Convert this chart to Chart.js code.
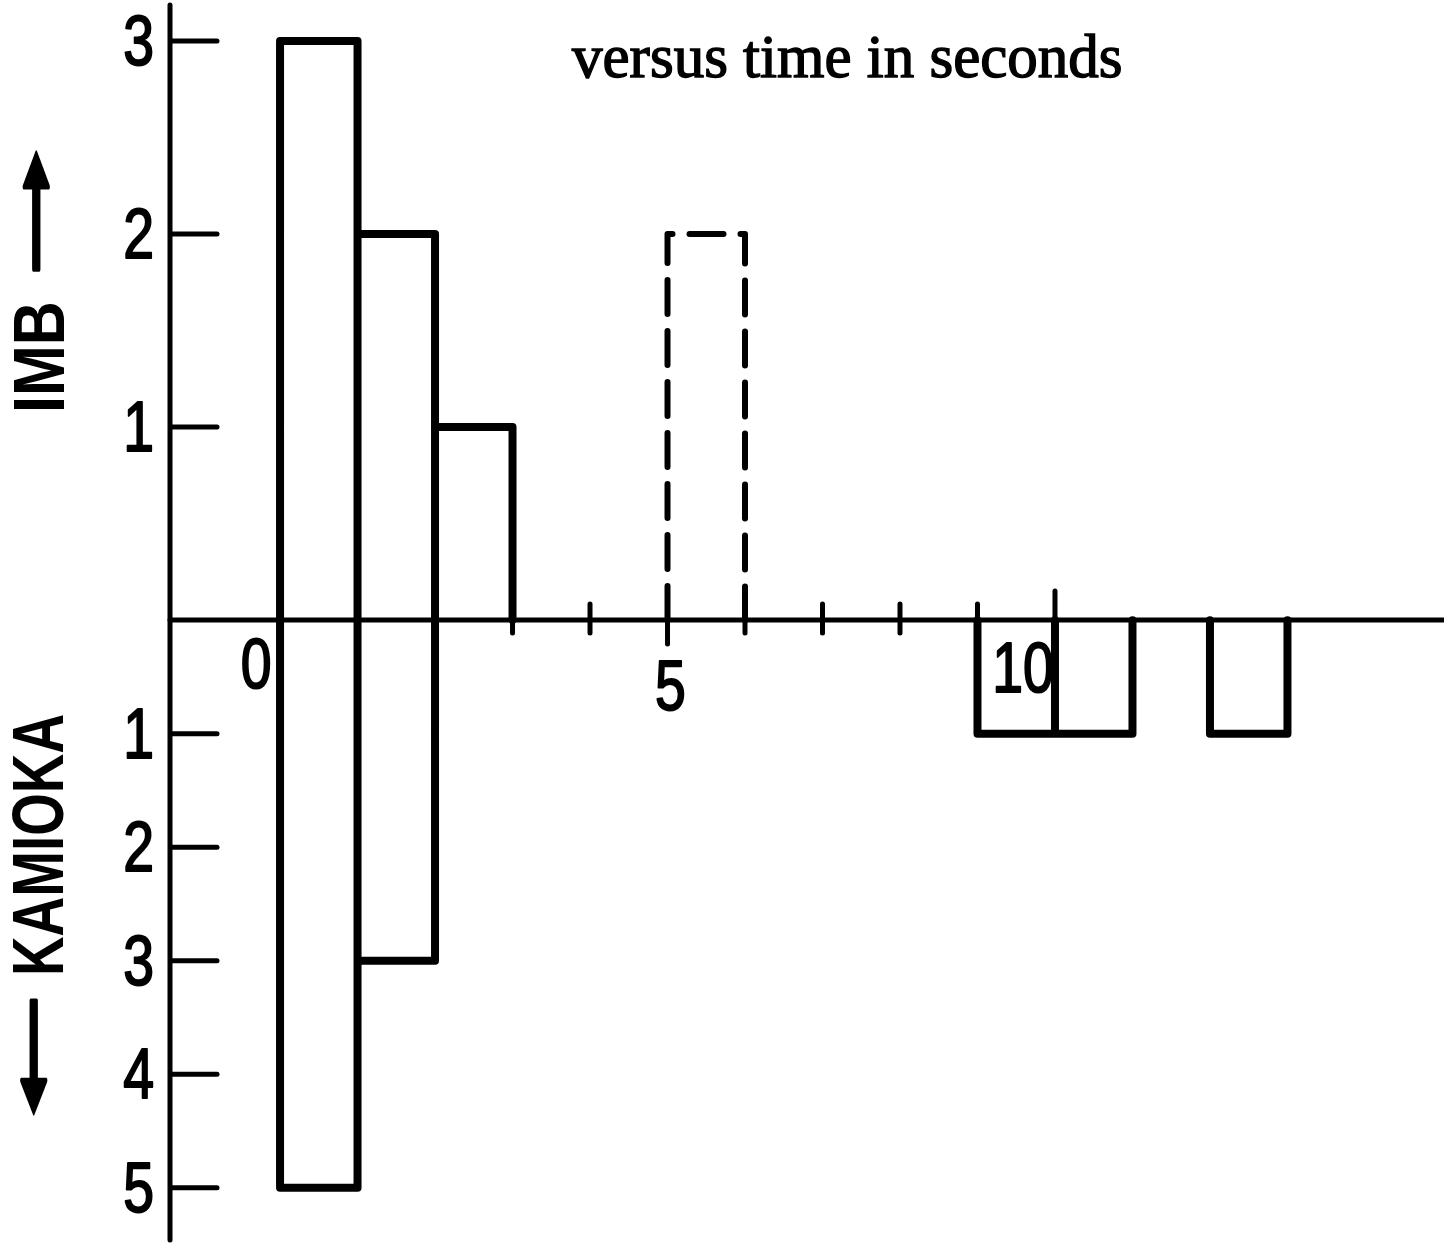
<!DOCTYPE html>
<html>
<head>
<meta charset="utf-8">
<script src="https://cdn.jsdelivr.net/npm/chart.js@4.4.1/dist/chart.umd.min.js"></script>
<style>
  html, body { margin: 0; padding: 0; background: #fff; overflow: hidden; }
  #wrap { width: 1444px; height: 1245px; position: relative; }
</style>
</head>
<body>
<div id="wrap"><canvas id="chart"></canvas></div>
<script>
// neutrino counts per 1 second bin (bin start in seconds)
const imbBinStarts = [0, 1, 2]
const imbCounts = [3, 2, 1]
const imbDashedBinStarts = [5]
const imbDashedCounts = [2]
const kamiokaBinStarts = [0, 1, 9, 10, 12]
const kamiokaCounts = [5, 3, 1, 1, 1]
const binWidth = 1

const imbTicks = [1, 2, 3]
const kamiokaTicks = [1, 2, 3, 4, 5]
const timeTicks = [3, 4, 5, 6, 7, 8, 9, 10]
const timeMajorTicks = [5, 10]
const timeLabels = [0, 5, 10]

const titleText = 'versus time in seconds'
const imbTitle = 'IMB'
const kamiokaTitle = 'KAMIOKA'
const arrowGlyph = '\u279E'

// open box (no bottom) for each bin, null point between bins breaks the line
function outline(starts, counts) {
  const pts = []
  starts.forEach((s, i) => {
    const e = s + binWidth
    pts.push({ x: s, y: 0 }, { x: s, y: counts[i] }, { x: e, y: counts[i] }, { x: e, y: 0 }, { x: e, y: null })
  })
  return pts
}

function seg(ctx, x1, y1, x2, y2) {
  ctx.beginPath()
  ctx.moveTo(x1, y1)
  ctx.lineTo(x2, y2)
  ctx.stroke()
}

// condensed, slightly heavy lettering like the scanned figure
function narrowText(ctx, text, x, y, sx, align) {
  ctx.save()
  ctx.translate(x, y)
  ctx.scale(sx, 1)
  ctx.textAlign = align
  ctx.lineWidth = 2
  ctx.lineJoin = 'round'
  ctx.fillText(text, 0, 0)
  ctx.strokeText(text, 0, 0)
  ctx.restore()
}

// rotated text fitted to a given length along the axis
function sideText(ctx, text, font, x, y, length) {
  ctx.save()
  ctx.translate(x, y)
  ctx.rotate(-Math.PI / 2)
  ctx.font = font
  const w = ctx.measureText(text).width
  ctx.scale(length / w, 1)
  ctx.textAlign = 'left'
  ctx.textBaseline = 'alphabetic'
  ctx.fillText(text, 0, 0)
  ctx.restore()
}

// arrow glyph along x = cx from y1 (tail) to y2 (tip)
function sideArrow(ctx, cx, y1, y2, headWidth) {
  ctx.save()
  ctx.font = '100px "DejaVu Sans", sans-serif'
  let m = ctx.measureText(arrowGlyph)
  const size = 100 * headWidth / (m.actualBoundingBoxAscent + m.actualBoundingBoxDescent)
  ctx.font = size + 'px "DejaVu Sans", sans-serif'
  m = ctx.measureText(arrowGlyph)
  const inkW = m.actualBoundingBoxLeft + m.actualBoundingBoxRight
  const mid = (m.actualBoundingBoxAscent - m.actualBoundingBoxDescent) / 2
  ctx.translate(cx, y1)
  ctx.rotate(y2 < y1 ? -Math.PI / 2 : Math.PI / 2)
  ctx.scale(Math.abs(y2 - y1) / inkW, 1)
  ctx.textAlign = 'left'
  ctx.textBaseline = 'alphabetic'
  ctx.lineWidth = 2
  ctx.lineJoin = 'round'
  ctx.fillText(arrowGlyph, m.actualBoundingBoxLeft, mid)
  ctx.strokeText(arrowGlyph, m.actualBoundingBoxLeft, mid)
  ctx.restore()
}

const axesPlugin = {
  id: 'handAxes',
  afterDatasetsDraw(chart) {
    const { ctx, chartArea: a, scales } = chart
    const x = scales.x, yImb = scales.yImb, yKam = scales.yKam
    const y0 = yImb.getPixelForValue(0)

    ctx.save()
    ctx.strokeStyle = '#000'
    ctx.fillStyle = '#000'
    ctx.lineCap = 'round'

    // axis lines
    ctx.lineWidth = 5
    seg(ctx, a.left, a.top, a.left, a.bottom)
    seg(ctx, a.left, y0, a.right, y0)

    // y ticks point inwards
    ctx.font = '71px "Liberation Sans", Arial, sans-serif'
    ctx.textBaseline = 'alphabetic'
    imbTicks.forEach(v => {
      const py = yImb.getPixelForValue(v)
      ctx.lineWidth = 5
      seg(ctx, a.left + 2, py, a.left + 47, py)
      narrowText(ctx, String(v), a.left - 16, py + 24, 0.78, 'right')
    })
    kamiokaTicks.forEach(v => {
      const py = yKam.getPixelForValue(v)
      ctx.lineWidth = 5
      seg(ctx, a.left + 2, py, a.left + 47, py)
      narrowText(ctx, String(v), a.left - 16, py + 24, 0.78, 'right')
    })

    // time ticks cross the axis
    ctx.lineWidth = 5
    timeTicks.forEach(v => {
      const px = x.getPixelForValue(v)
      const major = timeMajorTicks.includes(v)
      seg(ctx, px, y0 - (major ? 29 : 16), px, y0 + (major ? 24 : 13))
    })

    // time labels sit a bit off their ticks in the figure
    const nudge = { 0: [-24, 688], 5: [3, 710], 10: [-32, 692] }
    timeLabels.forEach(v => {
      const px = x.getPixelForValue(v) + nudge[v][0]
      narrowText(ctx, String(v), px, nudge[v][1], 0.78, 'center')
    })

    // detector names along the left edge
    const sans = 'bold 72px "Liberation Sans", Arial, sans-serif'
    sideText(ctx, imbTitle, sans, 64, 413, 112)
    sideArrow(ctx, 36, 270, 152, 26)
    sideArrow(ctx, 34, 1000, 1114, 26)
    sideText(ctx, kamiokaTitle, sans, 63, 976, 262)

    // caption at top
    ctx.font = '61px "Liberation Serif", "Times New Roman", serif'
    ctx.textAlign = 'left'
    ctx.lineWidth = 1.4
    ctx.fillText(titleText, 572, 77)
    ctx.strokeText(titleText, 572, 77)

    ctx.restore()
  }
}

const common = {
  borderColor: '#000',
  borderWidth: 8,
  pointRadius: 0,
  showLine: true,
  spanGaps: false,
  tension: 0,
  borderJoinStyle: 'round',
  borderCapStyle: 'round'
}

new Chart(document.getElementById('chart'), {
  type: 'scatter',
  data: {
    datasets: [
      { ...common, label: 'IMB', yAxisID: 'yImb', data: outline(imbBinStarts, imbCounts) },
      { ...common, label: 'IMB (dashed)', yAxisID: 'yImb', borderWidth: 6, borderDash: [34, 17],
        data: outline(imbDashedBinStarts, imbDashedCounts) },
      { ...common, label: 'Kamioka', yAxisID: 'yKam', data: outline(kamiokaBinStarts, kamiokaCounts) }
    ]
  },
  options: {
    responsive: true,
    maintainAspectRatio: false,
    animation: false,
    layout: { padding: { left: 170, right: 0, top: 5, bottom: 5 } },
    plugins: { legend: { display: false }, tooltip: { enabled: false } },
    scales: {
      x: { type: 'linear', min: -1.42, max: 15.02, display: false },
      yImb: { type: 'linear', min: -3.212, max: 3.187, display: false },
      yKam: { type: 'linear', reverse: true, min: -5.42, max: 5.46, display: false }
    }
  },
  plugins: [axesPlugin]
})
</script>
</body>
</html>
